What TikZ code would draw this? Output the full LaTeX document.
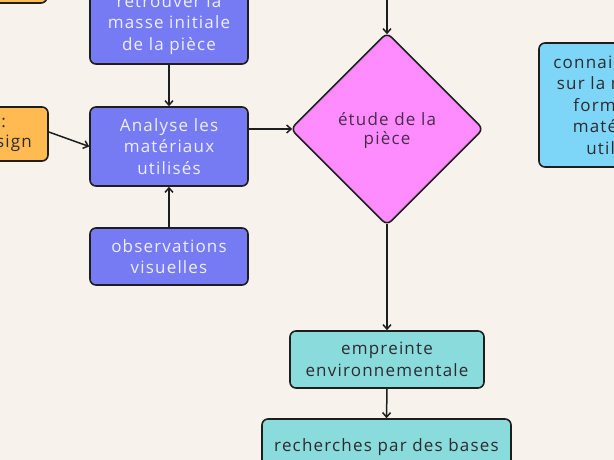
\documentclass[tikz,border=0pt]{standalone}
\usepackage{fontspec}
\setmainfont{Open Sans}[LetterSpace=7]
\usetikzlibrary{shapes.geometric,arrows.meta}
\definecolor{bg}{HTML}{F7F2EB}
\definecolor{violetbox}{HTML}{767BF3}
\definecolor{lighttxt}{HTML}{EEEEFF}
\definecolor{orangebox}{HTML}{FFBA52}
\definecolor{pinkbox}{HTML}{FF8CFF}
\definecolor{tealbox}{HTML}{8ADCDC}
\definecolor{skybox}{HTML}{7DD6F7}
\definecolor{edge}{HTML}{1E1E1E}
\definecolor{darktxt}{HTML}{2E2A30}
\definecolor{pinktxt}{HTML}{4A2A4A}
\tikzset{
  txt/.style={font=\fontsize{17}{21.5}\selectfont},
  box/.style={draw=edge, line width=1.6pt, rounded corners=6pt, inner sep=0pt,
    align=center, txt},
  vbox/.style={box, fill=violetbox, text=lighttxt, minimum width=158pt},
  obox/.style={box, fill=orangebox, text=darktxt},
  tbox/.style={box, fill=tealbox, text=darktxt},
  sbox/.style={box, fill=skybox, text=darktxt},
  dbox/.style={draw=edge, line width=1.6pt, diamond, aspect=1, rounded corners=6pt,
    inner sep=0pt, minimum size=193pt, fill=pinkbox, text=pinktxt, align=center,
    font=\fontsize{17}{20}\selectfont},
  arr/.style={draw=edge, line width=1.5pt, -{Straight Barb[length=4.5pt,width=8pt]}},
}
\begin{document}
\begin{tikzpicture}[x=1pt,y=-1pt]
\useasboundingbox (0,0) rectangle (614,460);
\clip (0,0) rectangle (614,460);
\fill[bg] (0,0) rectangle (614,460);

% top-left orange (mostly out of view)
\node[obox, minimum width=174pt, minimum height=46pt] (otop) at (-40,-20) {};
% left orange
\node[obox, minimum width=160pt, minimum height=54pt] (oleft) at (-32,134) {};
\node[anchor=base east, text=darktxt, txt, inner sep=0pt] (olt1) at (6,128) {:};
\node[anchor=base east, text=darktxt, txt, inner sep=0pt] (olt2) at (32,148) {sign};

% violet column
\node[vbox, minimum height=79pt] (ret) at (169,24.5) {retrouver la\\masse initiale\\de la pièce};
\node[vbox, minimum height=79pt] (ana) at (169,146.5) {Analyse les\\matériaux\\utilisés};
\node[vbox, minimum height=57pt] (obs) at (169,256.5) {observations\\visuelles};

% diamond
\node[dbox] (dia) at (387,129) {\raisebox{-2.5pt}[\height][\depth]{\begin{tabular}{@{}c@{}}étude de la\\[-1pt]pièce\end{tabular}}};
\coordinate (topin) at (387,-5);

% teal
\node[tbox, minimum width=194pt, minimum height=57pt] (emp) at (387,359.5) {empreinte\\environnementale};
\node[tbox, minimum width=249pt, minimum height=57pt] (rech) at (386.5,447.5) {recherches par des bases};

% sky box at right
\node[sbox, minimum width=158pt, minimum height=124pt] (conn) at (618,105) {connaissances\\sur la mise en\\forme des\\matériaux\\utilisés};

% connectors
\draw[arr] (ret) -- (ana);
\draw[arr] (obs) -- (ana);
\draw[arr] ([yshift=2pt]oleft.east) -- (ana.west);
\draw[arr] (ana.east |- dia.west) -- ([xshift=2.5pt]dia.west);
\draw[arr] (topin) -- ([yshift=-2.5pt]dia.north);
\draw[arr] ([yshift=2.5pt]dia.south) -- (emp.north);
\draw[arr] (emp.south) -- (rech.north);
\end{tikzpicture}
\end{document}
